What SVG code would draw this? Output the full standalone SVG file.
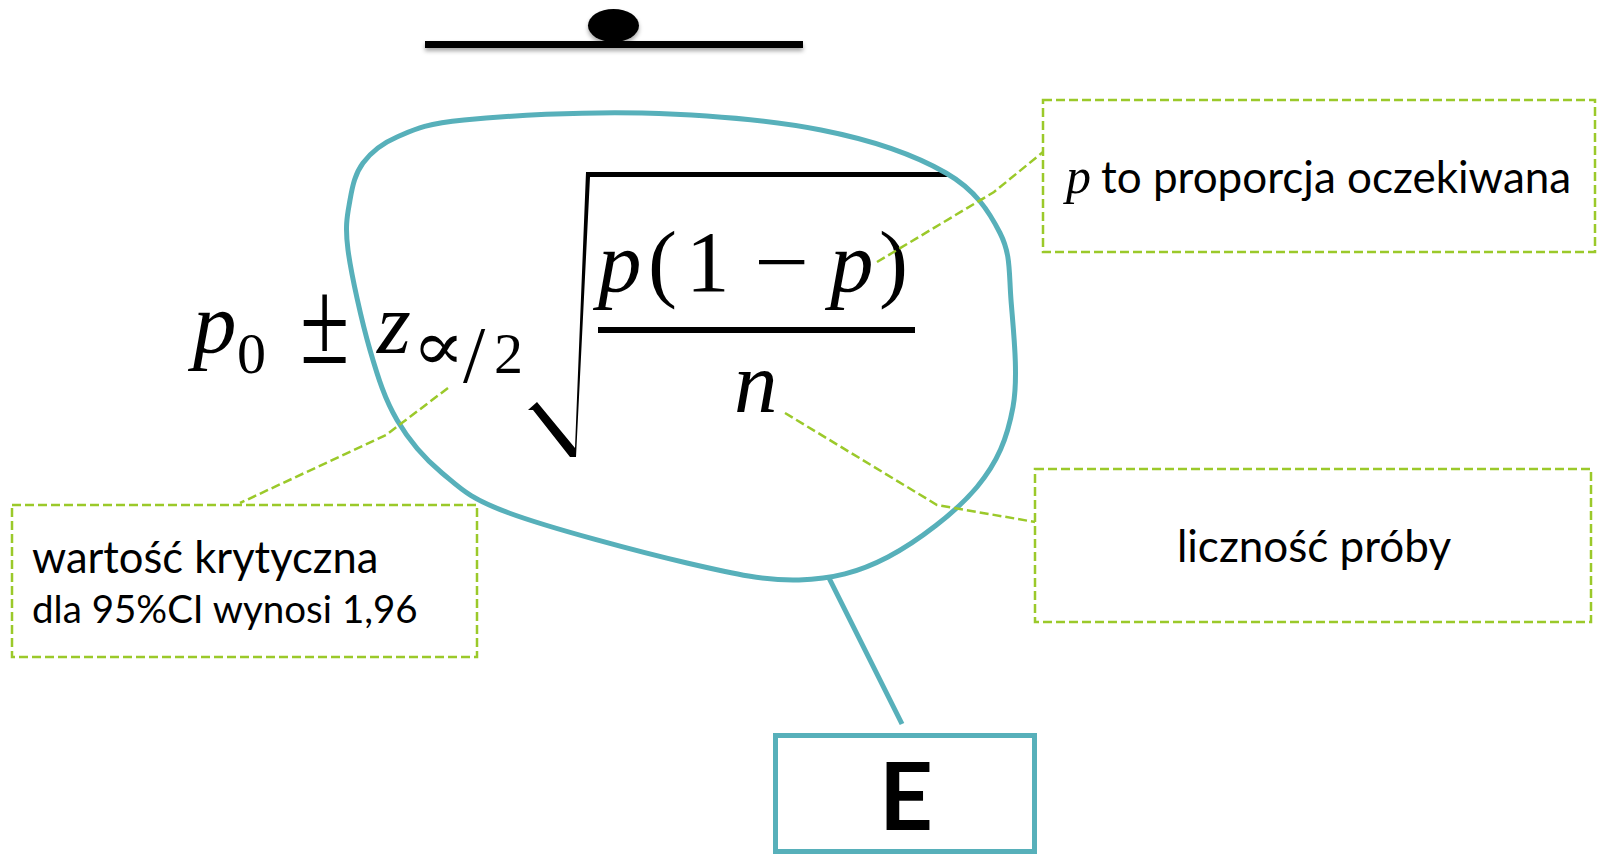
<svg xmlns="http://www.w3.org/2000/svg" width="1598" height="856" viewBox="0 0 1598 856">
<defs>
<style>
.mi{font-family:"Liberation Serif","DejaVu Serif",serif;font-style:italic;fill:#000}
.mn{font-family:"Liberation Serif","DejaVu Serif",serif;fill:#000}
.lbl{font-family:Lato,"Open Sans","Noto Sans",sans-serif;fill:#000}
.gbox{fill:none;stroke:#9BC92A;stroke-width:2.5;stroke-dasharray:9 4}
.lead{fill:none;stroke:#9BC92A;stroke-width:2.5;stroke-dasharray:9 4}
.teal{fill:none;stroke:#57B0BA;stroke-width:5}
</style>
<filter id="sh" x="-10%" y="-100%" width="120%" height="400%">
<feDropShadow dx="0" dy="3" stdDeviation="2" flood-color="#000" flood-opacity="0.35"/>
</filter>
</defs>
<rect width="1598" height="856" fill="#fff"/>

<g id="balance" filter="url(#sh)">
<ellipse cx="613.5" cy="25.5" rx="25.5" ry="16.5" fill="#000"/>
<rect x="425" y="41" width="378" height="7" fill="#000"/>
</g>

<g id="formula">
<text class="mi" x="193" y="352" font-size="87">p</text>
<text class="mn" x="237" y="373" font-size="58">0</text>
<text class="mn" transform="translate(300,363) scale(1,1.35)" font-size="90">±</text>
<text class="mi" x="377" y="353" font-size="87">z</text>
<text class="mn" transform="translate(412,370) scale(1.12,1)" font-size="70">∝</text>
<text class="mn" x="463" y="382" font-size="80">/</text>
<text class="mn" x="494" y="373" font-size="58">2</text>
<path d="M528,410 L537,402 L575,448 L586,172 L948,172 L948,177 L590,177 L576,457 L570,457 L533,410 Z" fill="#000"/>
<text class="mi" x="598" y="291" font-size="87">p</text>
<text class="mn" x="648" y="291" font-size="87">(</text>
<text class="mn" x="686" y="291" font-size="87">1</text>
<text class="mn" transform="translate(754,291) scale(1.12,1)" font-size="87">−</text>
<text class="mi" x="830" y="291" font-size="87">p</text>
<text class="mn" x="879" y="291" font-size="87">)</text>
<rect x="598" y="327" width="317" height="6" fill="#000"/>
<text class="mi" x="734" y="412" font-size="87">n</text>
</g>

<g id="enclosure">
<path class="teal" d="M642,113 C701.5,114.7 770.3,120 821,130 C871.7,140 916.2,155.8 946,173 C975.8,190.2 989.2,211.8 1000,233 C1010.8,254.2 1008.8,271 1011,300 C1013.2,329 1018.7,375.8 1013,407 C1007.3,438.2 997.8,462 977,487 C956.2,512 917.7,541.5 888,557 C858.3,572.5 832.5,579 799,580 C765.5,581 735.3,574.2 687,563 C638.7,551.8 549.8,528 509,513 C468.2,498 460.7,488.5 442,473 C423.3,457.5 409,440.5 397,420 C385,399.5 378.2,378.3 370,350 C361.8,321.7 351.3,275 348,250 C344.7,225 347.5,214.5 350,200 C352.5,185.5 355.2,173.5 363,163 C370.8,152.5 380.2,144.2 397,137 C413.8,129.8 423.2,124 464,120 C504.8,116 582.5,111.3 642,113 Z"/>
</g>

<g id="connectors">
<polyline class="lead" points="877,262 994,192 1043,152"/>
<polyline class="lead" points="448,388 386,435 240,503"/>
<polyline class="lead" points="785,413 937,505 1035,522"/>
<line class="teal" x1="828" y1="576" x2="902" y2="724"/>
</g>

<g id="label-p">
<rect class="gbox" x="1043" y="100" width="552" height="152"/>
<text class="mi" x="1066" y="193" font-size="50">p</text>
<text class="lbl" x="1101" y="193" font-size="44">to proporcja oczekiwana</text>
</g>

<g id="label-z">
<rect class="gbox" x="12" y="505" width="465" height="152"/>
<text class="lbl" x="32" y="573" font-size="43.5">wartość krytyczna</text>
<text class="lbl" x="32" y="623" font-size="38.5">dla 95%CI wynosi 1,96</text>
</g>

<g id="label-n">
<rect class="gbox" x="1035" y="469" width="556" height="153"/>
<text class="lbl" x="1314" y="562" font-size="44" text-anchor="middle">liczność próby</text>
</g>

<g id="node-E">
<rect x="775.5" y="735.5" width="259" height="116" fill="#fff" stroke="#57B0BA" stroke-width="5"/>
<text class="lbl" x="906" y="830" font-size="94" font-weight="bold" text-anchor="middle">E</text>
</g>
</svg>
